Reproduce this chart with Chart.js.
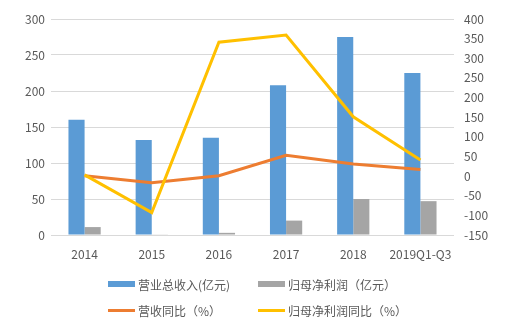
<!DOCTYPE html>
<html>
<head>
<meta charset="utf-8">
<script src="https://cdn.jsdelivr.net/npm/chart.js@4/dist/chart.umd.min.js"></script>
<style>
    html, body { margin: 0; padding: 0; background: #fff; }
    #wrap { position: relative; width: 510px; height: 329px; }
    #legend { position: absolute; left: 0; top: 0; width: 510px; height: 329px; pointer-events: none;
        font-family: "Noto Sans CJK SC", sans-serif; font-size: 12px; color: #595959; }
    .item { position: absolute; display: flex; align-items: center; white-space: nowrap; }
    .swatch { width: 27px; margin-right: 3px; }
</style>
</head>
<body>
<div id="wrap">
    <canvas id="chart" width="510" height="329"></canvas>
    <div id="legend"></div>
</div>
<script>
// 年份
const categories = ['2014', '2015', '2016', '2017', '2018', '2019Q1-Q3'];
// 營業總收入、歸母淨利潤（億元）
const revenue = [160, 132, 135, 208, 275, 225];
const netProfit = [11, 0.5, 3, 20, 50, 47];
// 同比（%）
const revenueYoY = [1, -17, 1, 53, 31, 17];
const profitYoY = [3, -93, 341, 359, 151, 41];
// 刻度
const leftTicks = [0, 50, 100, 150, 200, 250, 300];
const rightTicks = [-150, -100, -50, 0, 50, 100, 150, 200, 250, 300, 350, 400];

const seriesNames = ['营业总收入(亿元)', '归母净利润（亿元）', '营收同比（%）', '归母净利润同比（%）'];
const colors = ['#5B9BD5', '#A5A5A5', '#ED7D31', '#FFC000'];

const tickFont = { family: '"Noto Sans CJK SC", sans-serif', size: 12 };
const tickColor = '#595959';

const ctx = document.getElementById('chart').getContext('2d');
new Chart(ctx, {
    type: 'bar',
    data: {
        labels: categories,
        datasets: [
            { label: seriesNames[0], data: revenue, backgroundColor: colors[0], yAxisID: 'y', order: 3,
              categoryPercentage: 0.48, barPercentage: 1 },
            { label: seriesNames[1], data: netProfit, backgroundColor: colors[1], yAxisID: 'y', order: 3,
              categoryPercentage: 0.48, barPercentage: 1 },
            { type: 'line', label: seriesNames[2], data: revenueYoY, borderColor: colors[2], borderWidth: 3,
              pointRadius: 0, tension: 0, yAxisID: 'y1', order: 1 },
            { type: 'line', label: seriesNames[3], data: profitYoY, borderColor: colors[3], borderWidth: 3,
              pointRadius: 0, tension: 0, yAxisID: 'y1', order: 0 }
        ]
    },
    options: {
        responsive: false,
        animation: false,
        layout: { padding: { top: 19, bottom: 64, left: 0, right: 0 } },
        plugins: { legend: { display: false }, tooltip: { enabled: false } },
        scales: {
            x: {
                grid: { display: false },
                border: { display: false },
                ticks: { font: tickFont, color: tickColor, padding: 4, maxRotation: 0 },
                afterFit: (s) => { s.height = 30; }
            },
            y: {
                position: 'left',
                min: leftTicks[0], max: leftTicks[leftTicks.length - 1],
                afterBuildTicks: (s) => { s.ticks = leftTicks.map(v => ({ value: v })); },
                grid: { color: '#D9D9D9', lineWidth: 1, drawTicks: false },
                border: { display: false },
                ticks: { font: tickFont, color: tickColor, padding: 6 },
                afterFit: (s) => { s.width = 51; }
            },
            y1: {
                position: 'right',
                min: rightTicks[0], max: rightTicks[rightTicks.length - 1],
                afterBuildTicks: (s) => { s.ticks = rightTicks.map(v => ({ value: v })); },
                grid: { drawOnChartArea: false, drawTicks: false },
                border: { display: false },
                ticks: { font: tickFont, color: tickColor, padding: 10 },
                afterFit: (s) => { s.width = 56; }
            }
        }
    }
});

// 圖例：兩行兩列
const legendPos = [
    { x: 108, y: 284, kind: 'box' },
    { x: 258, y: 284, kind: 'box' },
    { x: 108, y: 310, kind: 'line' },
    { x: 258, y: 310, kind: 'line' }
];
const legend = document.getElementById('legend');
seriesNames.forEach((name, i) => {
    const p = legendPos[i];
    const item = document.createElement('div');
    item.className = 'item';
    item.style.left = p.x + 'px';
    item.style.top = (p.y - 9) + 'px';
    item.style.height = '18px';
    const sw = document.createElement('span');
    sw.className = 'swatch';
    sw.style.height = p.kind === 'box' ? '6px' : '3px';
    sw.style.background = colors[i];
    const txt = document.createElement('span');
    txt.textContent = name;
    item.appendChild(sw);
    item.appendChild(txt);
    legend.appendChild(item);
});
</script>
</body>
</html>
